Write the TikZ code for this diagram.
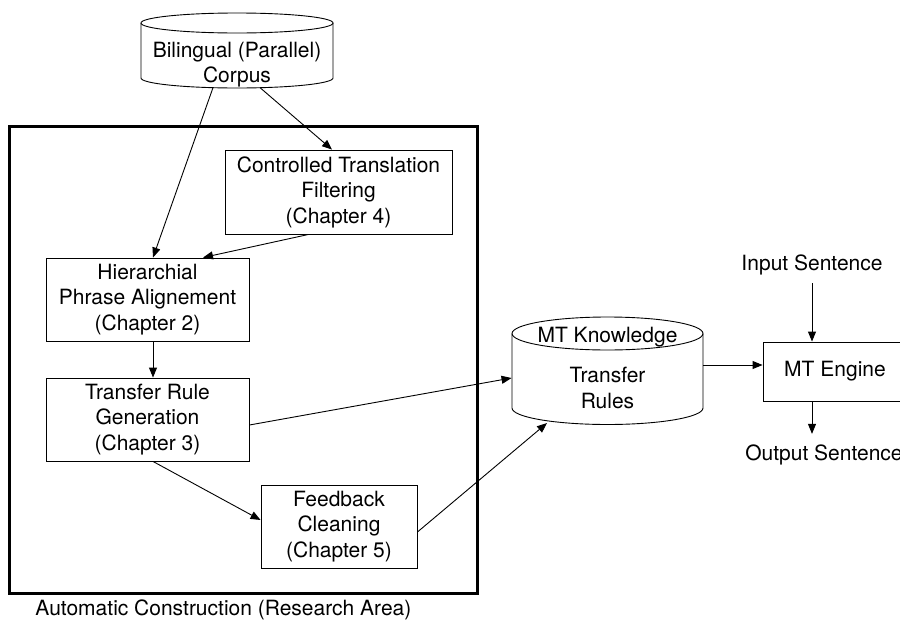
\documentclass[tikz,border=0pt]{standalone}
\usepackage{fontspec}
\setmainfont{TeX Gyre Heros}
\usetikzlibrary{arrows.meta}

\begin{document}
\begin{tikzpicture}[x=1pt, y=-1pt, line width=0.9pt, >={Triangle[length=10pt, width=8pt]},
		every node/.style={align=center, inner sep=0pt, font=\fontsize{21}{25.5}\selectfont},
		box/.style={draw, rectangle},
		area/.style={draw, rectangle, line width=3pt}]
	\useasboundingbox (0,0) rectangle (900,624);

	\draw (141,23) -- (141,78) arc[start angle=180, end angle=0, x radius=96, y radius=10] -- (333,23);
	\draw (237,23) ellipse[x radius=96, y radius=10];
	\draw (512,333.5) -- (512,408) arc[start angle=180, end angle=0, x radius=95.5, y radius=16.5] -- (703,333.5);
	\draw (607.5,333.5) ellipse[x radius=95.5, y radius=16.5];

	\node (corpus) at (237,64.5) {Bilingual (Parallel)\\Corpus};
	\node[area, minimum width=467.5, minimum height=467] (research) at (243.25,359.5) {};
	\node[box, minimum width=227, minimum height=84] (ctf) at (338.5,192) {Controlled Translation\\Filtering\\(Chapter 4)};
	\node[box, minimum width=203, minimum height=83] (hpa) at (147.5,299.5) {Hierarchial\\Phrase Alignement\\(Chapter 2)};
	\node[box, minimum width=203, minimum height=83] (trg) at (147.5,419.5) {Transfer Rule\\Generation\\(Chapter 3)};
	\node[box, minimum width=156, minimum height=83] (fbc) at (339,526.5) {Feedback\\Cleaning\\(Chapter 5)};
	\node[anchor=base] (kbtitle) at (607.5,342) {MT Knowledge};
	\node[minimum width=191] (kb) at (607.5,388) {Transfer\\Rules};
	\node[box, minimum width=144, minimum height=59] (engine) at (835,371.5) {MT Engine};
	\node[anchor=base] (input) at (812,270) {Input Sentence};
	\node[anchor=base] (output) at (824,460) {Output Sentence};
	\node[anchor=base west] (caption) at (35,615) {Automatic Construction (Research Area)};

	\draw[->] ([xshift=-24pt]corpus.south) to ([xshift=5.5pt]hpa.north);
	\draw[->] ([xshift=23pt]corpus.south) to ([xshift=-6.5pt]ctf.north);
	\draw[->] ([xshift=-30pt]ctf.south) to ([xshift=55.5pt]hpa.north);
	\draw[->] ([xshift=5.5pt]hpa.south) to ([xshift=5.5pt]trg.north);
	\draw[->] ([yshift=-5.5pt]trg.east) to ([yshift=10pt]kb.west);
	\draw[->] ([xshift=5.5pt]trg.south) to ([yshift=6.5pt]fbc.west);
	\draw[->] ([yshift=-5.5pt]fbc.east) to ([xshift=-60.5pt, yshift=-14pt]kb.south);
	\draw[->] ([yshift=23pt]kb.east) to ([yshift=6.5pt]engine.west);
	\draw[->, shorten <=8pt] (input.south) to ([xshift=-23pt]engine.north);
	\draw[->, shorten >=10pt] ([xshift=-23pt]engine.south) to ([xshift=-12pt]output.north);
\end{tikzpicture}
\end{document}
